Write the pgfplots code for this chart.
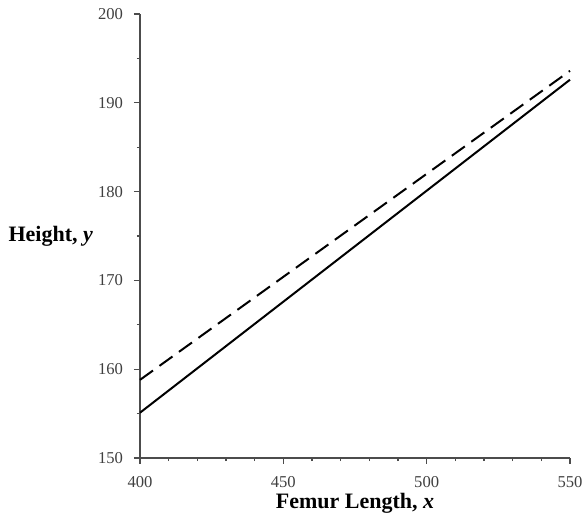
\documentclass[border=0pt]{standalone}
\usepackage{fontspec}
\setmainfont{Liberation Serif}
\usepackage{pgfplots}
\pgfplotsset{compat=1.18}

\begin{document}
\begin{tikzpicture}
\begin{axis}[
    scale only axis,
    width=215pt,
    height=222pt,
    xmin=400, xmax=550,
    ymin=150, ymax=200,
    axis lines=left,
    axis line style={-, draw=black!70, line width=0.8pt},
    xtick={400,450,500,550},
    ytick={150,160,...,200},
    minor x tick num=4,
    minor y tick num=1,
    tick align=outside,
    major tick length=3pt,
    minor tick length=1.6pt,
    tick style={black!70, line width=0.6pt},
    tick label style={font=\fontsize{8.3}{9}\selectfont, text=black!75},
    /pgf/number format/assume math mode=true,
    /pgf/number format/1000 sep={},
    xticklabel style={yshift=-2.5pt},
    yticklabel style={xshift=-2pt},
    xlabel={\textbf{Femur Length, \textit{x}}},
    ylabel={\textbf{Height, \textit{y}}},
    label style={font=\fontsize{11}{12}\selectfont},
    xlabel style={at={(axis description cs:0.5,0)}, anchor=north, yshift=-14pt},
    ylabel style={rotate=-90, at={(axis description cs:0,0.5)}, anchor=east, xshift=-20pt},
    clip=false,
]
\addplot[black, line width=1pt] coordinates {(400,155.1) (550,192.6)};
\addplot[black, line width=1pt, dash pattern=on 8pt off 4pt] coordinates {(400,158.8) (550,193.6)};
\end{axis}
\pgfresetboundingbox
\path (current axis.south west) ++(-70pt,-28pt) rectangle ++(292pt,257pt);
\end{tikzpicture}
\end{document}
